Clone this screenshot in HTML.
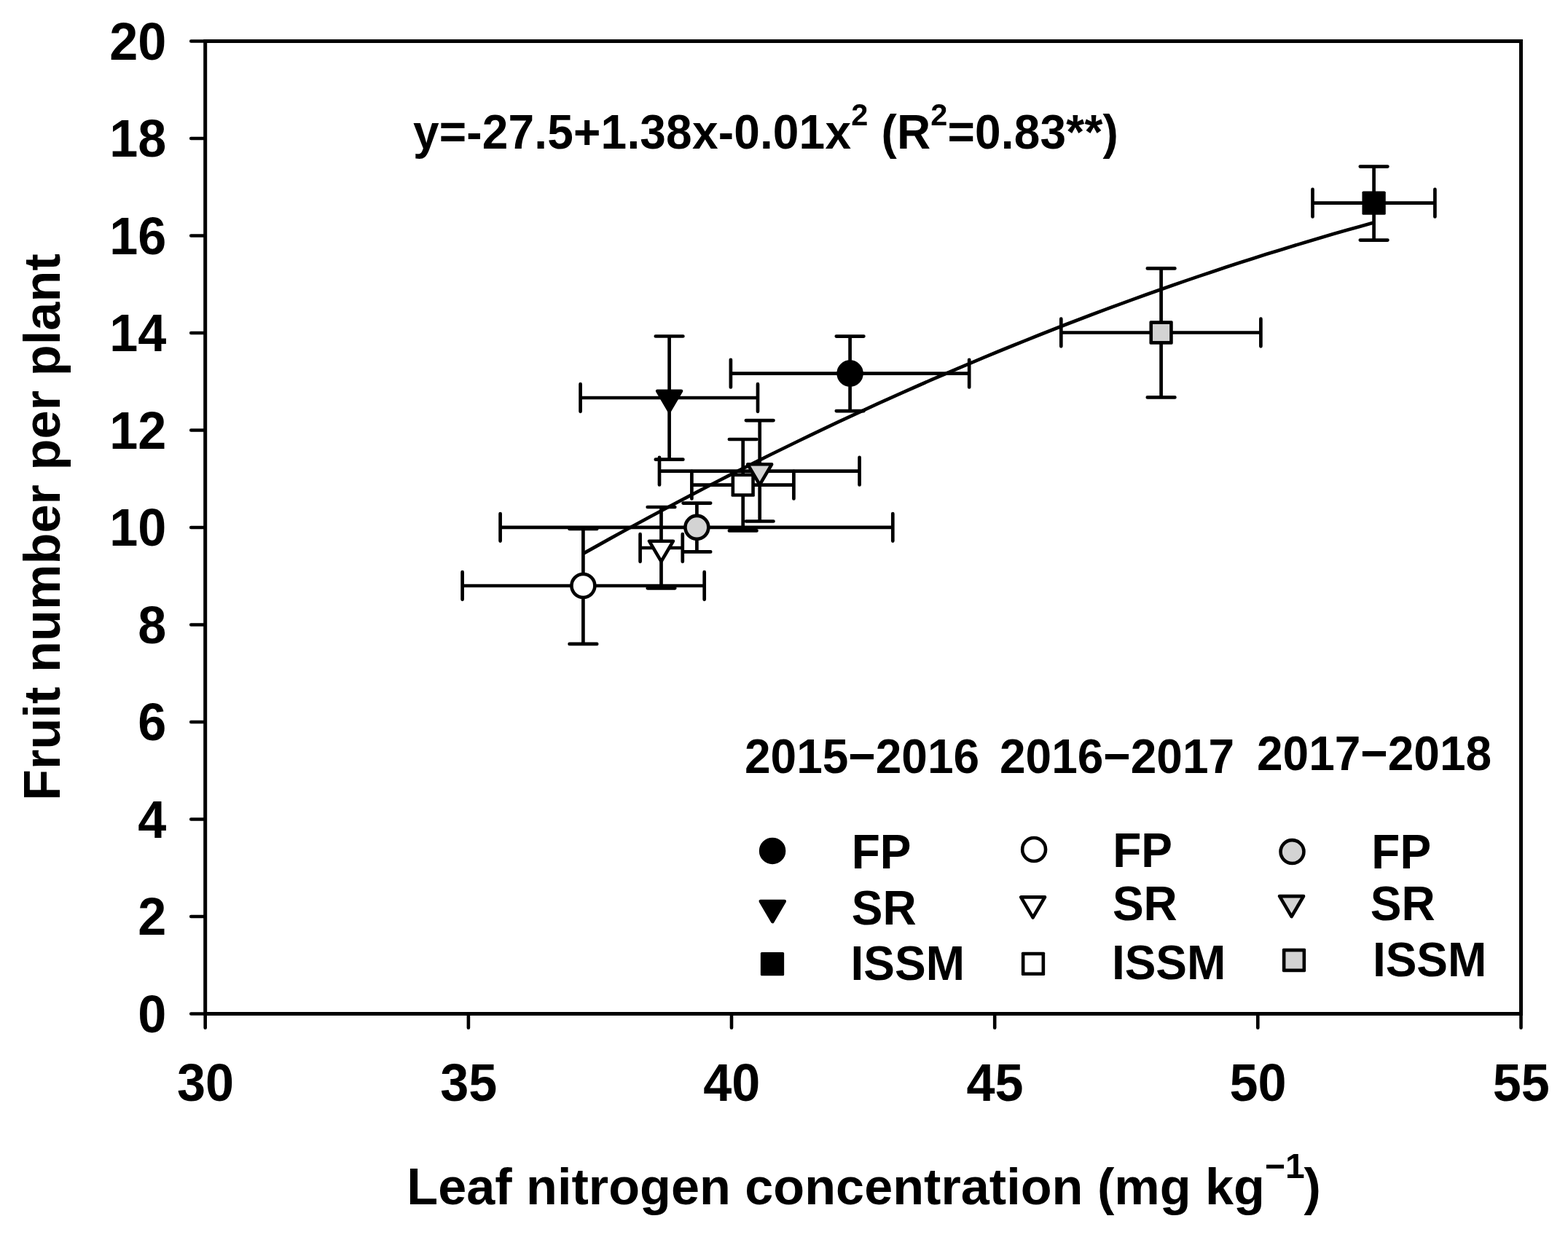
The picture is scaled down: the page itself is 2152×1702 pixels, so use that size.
<!DOCTYPE html>
<html><head><meta charset="utf-8"><title>Fruit number per plant vs leaf nitrogen concentration</title>
<style>
html,body{margin:0;padding:0;background:#fff;}
body{width:2152px;height:1702px;overflow:hidden;}
svg{display:block;}
text{font-family:"Liberation Sans",sans-serif;font-weight:bold;fill:#000;}
.ln{stroke:#000;stroke-width:5.0;fill:none;}
.tk{stroke:#000;stroke-width:4.6;fill:none;stroke-linecap:round;}
.eb{stroke:#000;stroke-width:4.7;fill:none;}
.cp{stroke-linecap:round;}
.mk{stroke:#000;stroke-width:4.6;}
.tr{stroke-linejoin:round;}
</style></head><body>
<svg width="2152" height="1702" viewBox="0 0 2152 1702">
<rect width="2152" height="1702" fill="#fff"/>

<rect class="ln" x="281.7" y="56.5" width="1805.80" height="1335.00"/>
<path class="tk" d="M262.2 1391.5H280.7M262.2 1258.0H280.7M262.2 1124.5H280.7M262.2 991.0H280.7M262.2 857.5H280.7M262.2 724.0H280.7M262.2 590.5H280.7M262.2 457.0H280.7M262.2 323.5H280.7M262.2 190.0H280.7M262.2 56.5H280.7M281.7 1392.5V1410.7M642.9 1392.5V1410.7M1004.0 1392.5V1410.7M1365.2 1392.5V1410.7M1726.3 1392.5V1410.7M2087.5 1392.5V1410.7"/>
<text transform="translate(228.3 1416.8) scale(1 1.04)" font-size="70.2" text-anchor="end">0</text>
<text transform="translate(228.3 1283.3) scale(1 1.04)" font-size="70.2" text-anchor="end">2</text>
<text transform="translate(228.3 1149.8) scale(1 1.04)" font-size="70.2" text-anchor="end">4</text>
<text transform="translate(228.3 1016.3) scale(1 1.04)" font-size="70.2" text-anchor="end">6</text>
<text transform="translate(228.3 882.8) scale(1 1.04)" font-size="70.2" text-anchor="end">8</text>
<text transform="translate(228.3 749.3) scale(1 1.04)" font-size="70.2" text-anchor="end">10</text>
<text transform="translate(228.3 615.8) scale(1 1.04)" font-size="70.2" text-anchor="end">12</text>
<text transform="translate(228.3 482.3) scale(1 1.04)" font-size="70.2" text-anchor="end">14</text>
<text transform="translate(228.3 348.8) scale(1 1.04)" font-size="70.2" text-anchor="end">16</text>
<text transform="translate(228.3 215.3) scale(1 1.04)" font-size="70.2" text-anchor="end">18</text>
<text transform="translate(228.3 81.8) scale(1 1.04)" font-size="70.2" text-anchor="end">20</text>
<text transform="translate(282.0 1511) scale(1 1.04)" font-size="70.2" text-anchor="middle">30</text>
<text transform="translate(643.2 1511) scale(1 1.04)" font-size="70.2" text-anchor="middle">35</text>
<text transform="translate(1004.3 1511) scale(1 1.04)" font-size="70.2" text-anchor="middle">40</text>
<text transform="translate(1365.5 1511) scale(1 1.04)" font-size="70.2" text-anchor="middle">45</text>
<text transform="translate(1726.6 1511) scale(1 1.04)" font-size="70.2" text-anchor="middle">50</text>
<text transform="translate(2087.8 1511) scale(1 1.04)" font-size="70.2" text-anchor="middle">55</text>
<text transform="translate(558.3 1652.7)" font-size="70.2">Leaf nitrogen concentration (mg kg<tspan font-size="48" dy="-36">−1</tspan><tspan dy="36" dx="-1.2">)</tspan></text>
<text transform="translate(82.3 1099) rotate(-90)" font-size="70.2" letter-spacing="0.1">Fruit number per plant</text>
<text transform="translate(567 204.4) scale(1 1.04)" font-size="64" letter-spacing="0.18">y=-27.5+1.38x-0.01x<tspan font-size="41.5" dy="-31.5">2</tspan><tspan dy="31.5"> (R</tspan><tspan font-size="41.5" dy="-31.5">2</tspan><tspan dy="31.5">=0.83**)</tspan></text>
<path class="eb" d="M800.4 759.9 L818.8 749.6 L837.1 739.4 L855.5 729.3 L873.9 719.3 L892.3 709.3 L910.6 699.5 L929.0 689.7 L947.4 680.1 L965.8 670.5 L984.1 661.0 L1002.5 651.6 L1020.9 642.3 L1039.3 633.1 L1057.6 624.0 L1076.0 615.0 L1094.4 606.0 L1112.8 597.1 L1131.1 588.4 L1149.5 579.7 L1167.9 571.1 L1186.3 562.6 L1204.6 554.2 L1223.0 545.9 L1241.4 537.6 L1259.8 529.5 L1278.1 521.4 L1296.5 513.5 L1314.9 505.6 L1333.3 497.8 L1351.6 490.1 L1370.0 482.5 L1388.4 475.0 L1406.8 467.6 L1425.1 460.2 L1443.5 453.0 L1461.9 445.8 L1480.3 438.7 L1498.6 431.8 L1517.0 424.9 L1535.4 418.1 L1553.8 411.4 L1572.1 404.7 L1590.5 398.2 L1608.9 391.7 L1627.3 385.4 L1645.6 379.1 L1664.0 372.9 L1682.4 366.8 L1700.8 360.8 L1719.1 354.9 L1737.5 349.1 L1755.9 343.4 L1774.3 337.7 L1792.6 332.2 L1811.0 326.7 L1829.4 321.3 L1847.8 316.1 L1866.1 310.9 L1884.5 305.8"/>
<path class="eb cp" d="M1002.9 512.6H1330.2M1166.6 461.6V564.1M1002.9 493.8V531.4M1330.2 493.8V531.4M1147.8 461.6H1185.4M1147.8 564.1H1185.4"/>
<circle class="mk" cx="1166.6" cy="512.6" r="15.95" fill="#000"/>
<path class="eb cp" d="M796.6 546.0H1040.0M918.6 461.5V630.7M796.6 527.2V564.8M1040.0 527.2V564.8M899.8 461.5H937.4M899.8 630.7H937.4"/>
<path class="mk tr" d="M902.15 536.70H935.05L918.60 564.70Z" fill="#000"/>
<path class="eb cp" d="M1801.5 278.7H1969.4M1885.6 228.6V329.6M1801.5 259.9V297.5M1969.4 259.9V297.5M1866.8 228.6H1904.4M1866.8 329.6H1904.4"/>
<rect x="1869.45" y="262.55" width="32.3" height="32.3" rx="1.6" fill="#000"/>
<path class="eb cp" d="M634.6 804.0H966.7M800.4 725.9V883.9M634.6 785.2V822.8M966.7 785.2V822.8M781.6 725.9H819.2M781.6 883.9H819.2"/>
<circle class="mk" cx="800.4" cy="804.0" r="15.95" fill="#fff"/>
<path class="eb cp" d="M878.6 752.0H936.8M907.5 696.0V807.3M878.6 733.2V770.8M936.8 733.2V770.8M888.7 696.0H926.3M888.7 807.3H926.3"/>
<path class="mk tr" d="M891.05 742.70H923.95L907.50 770.70Z" fill="#fff"/>
<path class="eb cp" d="M949.4 665.7H1089.4M1019.7 603.0V728.4M949.4 646.9V684.5M1089.4 646.9V684.5M1000.9 603.0H1038.5M1000.9 728.4H1038.5"/>
<rect x="1003.55" y="649.55" width="32.3" height="32.3" rx="1.6" fill="#000"/><rect x="1008.15" y="654.15" width="23.1" height="23.1" fill="#fff"/>
<path class="eb cp" d="M686.6 723.8H1225.3M956.4 690.6V757.4M686.6 705.0V742.6M1225.3 705.0V742.6M937.6 690.6H975.2M937.6 757.4H975.2"/>
<circle class="mk" cx="956.4" cy="723.8" r="15.95" fill="#d3d3d3"/>
<path class="eb cp" d="M905.0 646.6H1179.6M1042.7 577.1V715.5M905.0 627.8V665.4M1179.6 627.8V665.4M1023.9 577.1H1061.5M1023.9 715.5H1061.5"/>
<path class="mk tr" d="M1026.25 637.30H1059.15L1042.70 665.30Z" fill="#d3d3d3"/>
<path class="eb cp" d="M1456.3 456.5H1730.4M1593.6 368.4V545.4M1456.3 437.7V475.3M1730.4 437.7V475.3M1574.8 368.4H1612.4M1574.8 545.4H1612.4"/>
<rect x="1577.45" y="440.35" width="32.3" height="32.3" rx="1.6" fill="#000"/><rect x="1582.05" y="444.95" width="23.1" height="23.1" fill="#d3d3d3"/>
<text transform="translate(1022 1061.3) scale(1 1.04)" font-size="64">2015−2016</text>
<text transform="translate(1372 1061.3) scale(1 1.04)" font-size="64">2016−2017</text>
<text transform="translate(1725 1057) scale(1 1.04)" font-size="64">2017−2018</text>
<circle class="mk" cx="1060.1" cy="1167.9" r="15.95" fill="#000"/>
<path class="mk tr" d="M1043.85 1237.00H1076.75L1060.30 1265.00Z" fill="#000"/>
<rect x="1043.85" y="1306.95" width="32.3" height="32.3" rx="1.6" fill="#000"/>
<text transform="translate(1168.7 1191.9) scale(1 1.04)" font-size="64">FP</text>
<text transform="translate(1168.8 1268.9) scale(1 1.04)" font-size="64">SR</text>
<text transform="translate(1167.5 1344.7) scale(1 1.04)" font-size="64">ISSM</text>
<circle class="mk" cx="1419.1" cy="1166.0" r="15.95" fill="#fff"/>
<path class="mk tr" d="M1401.15 1231.40H1434.05L1417.60 1259.40Z" fill="#fff"/>
<rect x="1401.85" y="1306.75" width="32.3" height="32.3" rx="1.6" fill="#000"/><rect x="1406.45" y="1311.35" width="23.1" height="23.1" fill="#fff"/>
<text transform="translate(1527.2 1190.4) scale(1 1.04)" font-size="64">FP</text>
<text transform="translate(1526.9 1262.6) scale(1 1.04)" font-size="64">SR</text>
<text transform="translate(1525.9 1344) scale(1 1.04)" font-size="64">ISSM</text>
<circle class="mk" cx="1773.5" cy="1169.1" r="15.95" fill="#d3d3d3"/>
<path class="mk tr" d="M1756.15 1230.10H1789.05L1772.60 1258.10Z" fill="#d3d3d3"/>
<rect x="1759.85" y="1301.85" width="32.3" height="32.3" rx="1.6" fill="#000"/><rect x="1764.45" y="1306.45" width="23.1" height="23.1" fill="#d3d3d3"/>
<text transform="translate(1882.3 1191.8) scale(1 1.04)" font-size="64">FP</text>
<text transform="translate(1880.8 1263.0) scale(1 1.04)" font-size="64">SR</text>
<text transform="translate(1883.9 1339.8) scale(1 1.04)" font-size="64">ISSM</text>
</svg></body></html>
